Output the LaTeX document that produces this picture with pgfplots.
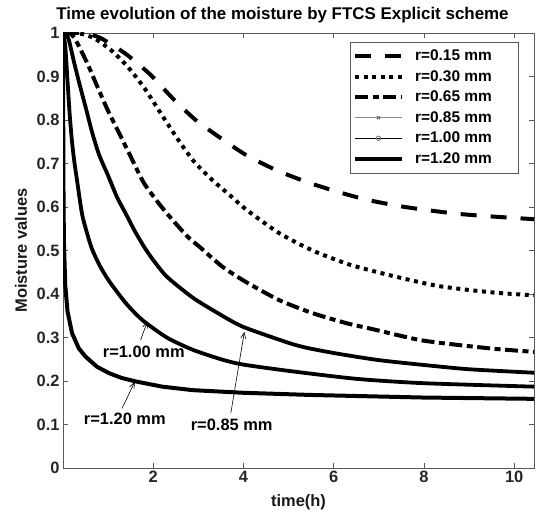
\documentclass[border=0pt]{standalone}
\usepackage{fontspec}
\setmainfont{Liberation Sans}
\usepackage{pgfplots}
\usepackage{pgfplotstable}
\pgfplotsset{compat=1.18}
\usetikzlibrary{arrows.meta}

\pgfplotstableread{
x y
0 1
0.4 1
0.6 0.997
0.84 0.988
1.1 0.972
1.43 0.949
1.95 0.903
2.43 0.850
2.94 0.800
3.5 0.758
4.05 0.720
4.72 0.685
5.39 0.658
6.05 0.636
6.72 0.617
7.46 0.602
8.13 0.592
8.79 0.584
9.53 0.578
10.44 0.572
}\rA
\pgfplotstableread{
x y
0 1
0.25 1
0.45 0.997
0.69 0.988
1.06 0.961
1.43 0.923
1.8 0.874
2.17 0.815
2.55 0.755
2.9 0.705
3.31 0.662
3.7 0.627
4.05 0.595
4.79 0.540
5.53 0.500
6.28 0.470
6.79 0.455
7.53 0.436
8.28 0.419
9.02 0.409
9.7 0.402
10.44 0.397
}\rB
\pgfplotstableread{
x y
0 1
0.15 1
0.28 0.984
0.54 0.930
0.76 0.877
0.99 0.823
1.21 0.777
1.5 0.716
1.8 0.654
2.24 0.593
2.76 0.532
3.02 0.509
3.53 0.463
4.05 0.428
4.79 0.386
5.53 0.356
6.28 0.333
6.87 0.319
7.98 0.293
9.46 0.275
10.44 0.267
}\rC
\pgfplotstableread{
x y
0 1
0.06 1
0.13 0.984
0.24 0.935
0.36 0.885
0.5 0.830
0.65 0.770
0.8 0.720
1.0 0.672
1.2 0.622
1.4 0.583
1.6 0.543
1.8 0.508
2.0 0.478
2.3 0.440
2.87 0.392
3.4 0.358
3.98 0.325
5.02 0.287
5.46 0.275
6.13 0.262
7.0 0.248
7.98 0.237
9.0 0.227
10.44 0.219
}\rD
\pgfplotstableread{
x y
0 1
0.02 0.99
0.05 0.97
0.1 0.89
0.15 0.81
0.2 0.75
0.25 0.705
0.32 0.655
0.43 0.580
0.62 0.510
0.8 0.468
1.02 0.430
1.4 0.378
1.76 0.340
2.3 0.300
2.87 0.272
3.5 0.250
3.98 0.238
5.02 0.223
6.5 0.205
7.98 0.195
10.44 0.187
}\rE
\pgfplotstableread{
x y
0 1
0.005 0.80
0.01 0.65
0.02 0.52
0.05 0.42
0.1 0.36
0.2 0.31
0.35 0.275
0.5 0.256
0.75 0.233
1.02 0.218
1.3 0.207
1.61 0.199
2.2 0.187
2.87 0.179
3.98 0.173
5.46 0.168
7.98 0.162
10.44 0.159
}\rF

\begin{document}
\begin{tikzpicture}
\useasboundingbox (-63bp,-47bp) rectangle (481bp,468bp);
\begin{axis}[
  scale only axis, width=471bp, height=435bp,
  xmin=0, xmax=10.44, ymin=0, ymax=1,
  xtick={2,4,6,8,10},
  ytick={0,0.1,0.2,0.3,0.4,0.5,0.6,0.7,0.8,0.9,1},
  yticklabels={0,0.1,0.2,0.3,0.4,0.5,0.6,0.7,0.8,0.9,1},
  tick align=inside, major tick length=5bp,
  axis line style={black!65, line width=0.6bp},
  every tick/.style={black!65, line width=0.6bp},
  /pgf/number format/assume math mode=true,
  ticklabel style={font=\fontsize{16.5}{19}\selectfont\bfseries, text=black!85},
  xlabel={time(h)}, ylabel={Moisture values},
  label style={font=\fontsize{16.5}{19}\selectfont\bfseries, text=black!90},
  xlabel style={at={(axis description cs:0.5,-0.078)}, anchor=center},
  ylabel style={at={(axis description cs:-0.089,0.5)}, anchor=center},
  title={Time evolution of the moisture by FTCS Explicit scheme},
  title style={at={(axis description cs:0.466,1)}, anchor=base, yshift=8bp, font=\fontsize{17}{20}\selectfont\bfseries},
  legend style={at={(axis description cs:0.9667,0.980)}, anchor=north east,
     draw=black!65, line width=0.6bp, font=\fontsize{15.5}{18}\selectfont\bfseries,
     inner ysep=4bp, inner xsep=3bp,
     nodes={text height=11.5bp, text depth=3bp, inner ysep=3bp}},
  legend cell align=left,
  legend image code/.code={\draw[#1] (0bp,0bp) -- (47bp,0bp);},
]
\addplot[black, line width=4bp, smooth, tension=0.4, dash pattern=on 16bp off 14bp] table {\rA};
\addlegendentry{\hspace*{9bp}\makebox[98bp][l]{r=0.15 mm}}
\addplot[black, line width=4bp, smooth, tension=0.4, dash pattern=on 4bp off 4.6bp] table {\rB};
\addlegendentry{\hspace*{9bp}\makebox[98bp][l]{r=0.30 mm}}
\addplot[black, line width=4bp, smooth, tension=0.4, dash pattern=on 13bp off 4.5bp on 6bp off 4.5bp] table {\rC};
\addlegendentry{\hspace*{9bp}\makebox[98bp][l]{r=0.65 mm}}
\addplot[black, line width=3.8bp, smooth, tension=0.4,
  legend image code/.code={\draw[black!45, line width=0.8bp] (0bp,0bp) -- (47bp,0bp);
   \path plot[mark=x, mark size=2.2bp, mark options={draw=black!60, line width=0.8bp}] coordinates {(23.5bp,0bp)};}] table {\rD};
\addlegendentry{\hspace*{9bp}\makebox[98bp][l]{r=0.85 mm}}
\addplot[black, line width=3.8bp, smooth, tension=0.4,
  legend image code/.code={\draw[black, line width=0.6bp] (0bp,0bp) -- (47bp,0bp);
   \path plot[mark=o, mark size=2.2bp, mark options={draw=black!55, fill=white, line width=0.8bp}] coordinates {(23.5bp,0bp)};}] table {\rE};
\addlegendentry{\hspace*{9bp}\makebox[98bp][l]{r=1.00 mm}}
\addplot[black, line width=4bp] table {\rF};
\addlegendentry{\hspace*{9bp}\makebox[98bp][l]{r=1.20 mm}}

\node[font=\fontsize{16.5}{19}\selectfont\bfseries] at (axis cs:1.79,0.267) {r=1.00 mm};
\draw[-{Straight Barb[length=6bp,width=5bp]}, line width=0.6bp] (axis cs:1.72,0.294) -- (axis cs:1.87,0.337);
\node[font=\fontsize{16.5}{19}\selectfont\bfseries] at (axis cs:1.37,0.114) {r=1.20 mm};
\draw[-{Straight Barb[length=6bp,width=5bp]}, line width=0.6bp] (axis cs:1.31,0.137) -- (axis cs:1.59,0.198);
\node[font=\fontsize{16.5}{19}\selectfont\bfseries] at (axis cs:3.74,0.099) {r=0.85 mm};
\draw[-{Straight Barb[length=6bp,width=5bp]}, line width=0.6bp] (axis cs:3.72,0.126) -- (axis cs:4.02,0.313);
\end{axis}
\end{tikzpicture}
\end{document}
